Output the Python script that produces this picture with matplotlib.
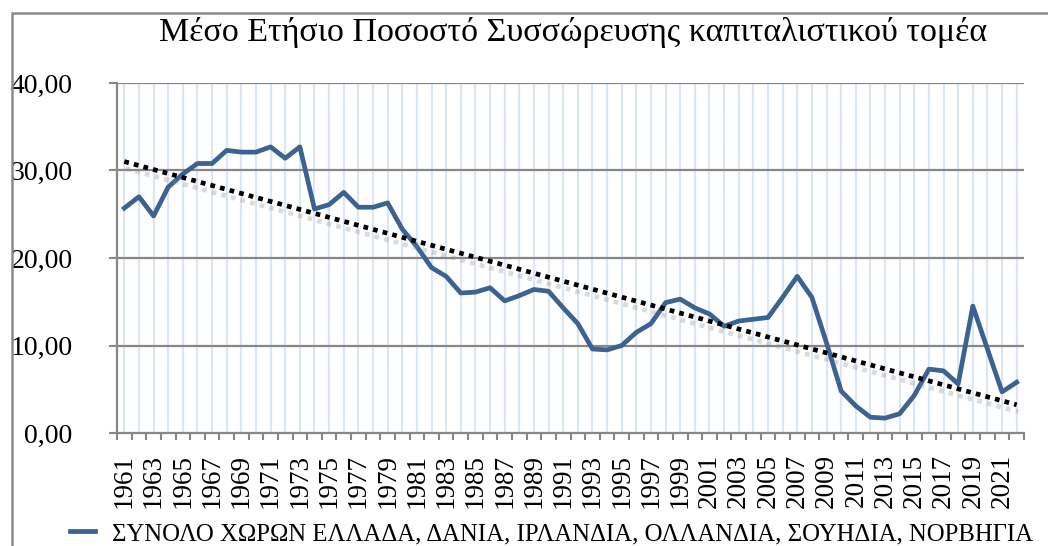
import numpy as np
import matplotlib
matplotlib.use("Agg")
import matplotlib.pyplot as plt
import matplotlib.patheffects as pe
from matplotlib.patches import Rectangle

# ── data ─────────────────────────────────────────────
years = list(range(1961, 2023))
values = [
    25.7, 27.0, 24.8, 28.1, 29.6, 30.8, 30.8, 32.3, 32.1, 32.1,
    32.7, 31.4, 32.7, 25.6, 26.1, 27.5, 25.8, 25.8, 26.3, 23.3,
    21.3, 18.9, 17.9, 16.0, 16.1, 16.6, 15.1, 15.7, 16.4, 16.2,
    14.3, 12.5, 9.6, 9.5, 10.0, 11.5, 12.5, 14.9, 15.3, 14.3,
    13.6, 12.2, 12.8, 13.0, 13.2, 15.5, 17.9, 15.5, 10.3, 4.8,
    3.1, 1.8, 1.7, 2.2, 4.3, 7.3, 7.1, 5.6, 14.5, 9.6,
    4.7, 5.8,
]
title = "Μέσο Ετήσιο Ποσοστό Συσσώρευσης καπιταλιστικού τομέα"
series_name = "ΣΥΝΟΛΟ ΧΩΡΩΝ ΕΛΛΑΔΑ, ΔΑΝΙΑ, ΙΡΛΑΝΔΙΑ, ΟΛΛΑΝΔΙΑ, ΣΟΥΗΔΙΑ, ΝΟΡΒΗΓΙΑ"
yticks = [0, 10, 20, 30, 40]

plt.rcParams['font.family'] = ['Liberation Serif', 'DejaVu Serif']

W, H = 1048, 546
fig = plt.figure(figsize=(W / 100, H / 100), dpi=100)
ax = fig.add_axes([117 / W, (H - 433) / H, (1024 - 117) / W, (433 - 83) / H])

x = np.arange(len(years))
blue = "#3b6291"
grey = "#878787"

# vertical light gridlines at each category
for xi in x:
    ax.axvline(xi, color="#dde7f3", lw=1.6, zorder=0)
for yt in yticks[1:]:
    ax.axhline(yt, color=grey, lw=1.6, zorder=1)

ax.plot(x, values, color=blue, lw=3.4, zorder=3, solid_joinstyle="round",
        label=series_name)

# linear trendline
coef = np.polyfit(x, values, 1)
trend = np.polyval(coef, x)
ax.plot(x, trend, color="black", lw=3.4, linestyle=(0, (1, 1.1)),
        dash_capstyle="butt", zorder=4,
        path_effects=[pe.SimpleLineShadow(offset=(1, -5), shadow_color="#888888", alpha=0.3),
                      pe.Normal()])

ax.set_xlim(-0.5, len(years) - 0.5)
ax.set_ylim(0, 40)
ax.set_yticks(yticks)
ax.set_yticklabels([f"{v:.2f}".replace(".", ",") for v in yticks], fontsize=20)
ax.set_xticks(x[::2])
ax.set_xticklabels([str(y) for y in years[::2]], rotation=90, fontsize=19.5)
ax.set_xticks(np.arange(-0.5, len(years)), minor=True)
ax.tick_params(axis="x", which="major", length=0, pad=15)
ax.tick_params(axis="x", which="minor", length=5, width=1.5, color=grey, direction="out")
ax.tick_params(axis="y", length=6, width=1.5, color=grey, pad=26)

for s in ["top", "right"]:
    ax.spines[s].set_visible(False)
for s in ["left", "bottom"]:
    ax.spines[s].set_color(grey)
    ax.spines[s].set_linewidth(1.6)
    ax.spines[s].set_zorder(5)

fig.text(573 / W, 1 - 33 / H, title, ha="center", va="center", fontsize=24.5)

fig.legend(loc="center left", bbox_to_anchor=(60 / W, 1 - 534 / H), frameon=False,
           fontsize=17.8, handlelength=1.0, handletextpad=0.7, borderaxespad=0)

# outer chart border
fig.patches.append(Rectangle((12 / W, -0.2), 1.2, 1.2 - 13 / H, transform=fig.transFigure,
                             fill=False, edgecolor="#8a8a8a", lw=1.8))

fig.savefig("out.png", dpi=100)
